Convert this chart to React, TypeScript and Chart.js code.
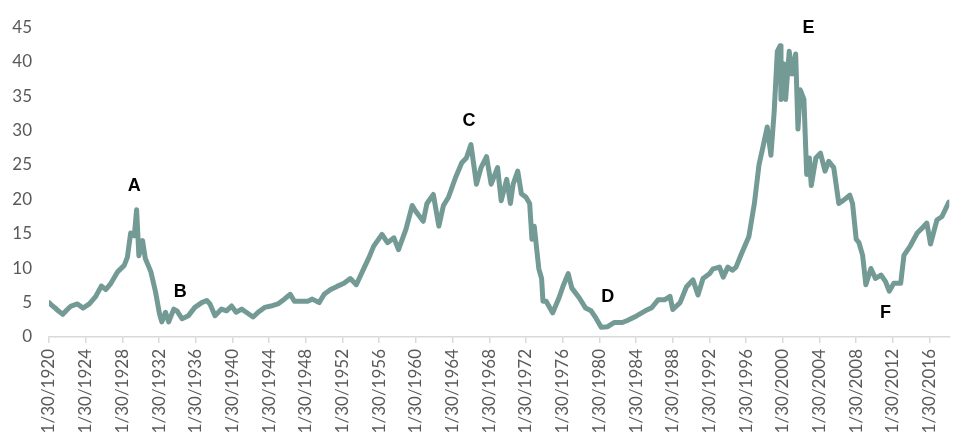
import { useEffect, useRef } from "react";
import { Chart, registerables } from "chart.js";

Chart.register(...registerables);

// Year (fractional) of each reading
const years = [
  1920.0, 1920.3, 1920.6, 1921.0, 1921.5, 1922.0, 1922.4, 1923.1, 1923.7, 1924.4,
  1925.1, 1925.7, 1926.2, 1926.75, 1927.5, 1928.2, 1928.55, 1928.9, 1929.3, 1929.55,
  1929.8, 1930.2, 1930.5, 1931.1, 1931.6, 1932.05, 1932.3, 1932.7, 1933.05, 1933.6,
  1933.95, 1934.5, 1935.2, 1935.9, 1936.65, 1937.2, 1937.55, 1938.1, 1938.8, 1939.35,
  1939.9, 1940.4, 1941.0, 1941.5, 1942.25, 1942.8, 1943.5, 1944.2, 1944.95, 1945.65,
  1946.3, 1946.75, 1947.45, 1948.2, 1948.7, 1949.45, 1950.0, 1950.7, 1951.4, 1952.15,
  1952.85, 1953.5, 1954.3, 1954.9, 1955.4, 1956.3, 1956.9, 1957.6, 1958.1, 1958.9,
  1959.6, 1959.9, 1960.8, 1961.2, 1961.9, 1962.5, 1963.0, 1963.55, 1964.3, 1965.0,
  1965.5, 1966.0, 1966.6, 1967.1, 1967.7, 1968.2, 1968.9, 1969.3, 1969.9, 1970.3,
  1970.6, 1971.1, 1971.5, 1972.0, 1972.4, 1972.65, 1972.9, 1973.4, 1973.7, 1973.85,
  1974.2, 1974.9, 1975.6, 1976.1, 1976.6, 1977.0, 1977.8, 1978.5, 1979.1, 1979.6,
  1980.2, 1980.9, 1981.6, 1982.5, 1983.05, 1984.1, 1985.0, 1985.7, 1986.4, 1987.1,
  1987.7, 1988.0, 1988.8, 1989.5, 1990.2, 1990.75, 1991.3, 1992.0, 1992.4, 1993.1,
  1993.5, 1994.0, 1994.5, 1994.9, 1995.4, 1996.3, 1996.9, 1997.4, 1997.8, 1998.3,
  1998.7, 1999.05, 1999.4, 1999.7, 1999.8, 2000.1, 2000.3, 2000.7, 2001.0, 2001.4,
  2001.65, 2001.9, 2002.3, 2002.6, 2002.9, 2003.1, 2003.6, 2004.1, 2004.6, 2005.0,
  2005.55, 2006.1, 2006.6, 2007.3, 2007.6, 2008.0, 2008.3, 2008.7, 2009.05, 2009.6,
  2010.1, 2010.7, 2011.2, 2011.6, 2012.1, 2012.85, 2013.2, 2013.9, 2014.65, 2015.2,
  2015.7, 2016.1, 2016.8, 2017.35, 2018.1,
];

// Ratio values
const values = [
  5.0, 4.6, 4.3, 3.8, 3.3, 4.0, 4.5, 4.8, 4.2, 4.8,
  5.9, 7.4, 6.9, 7.8, 9.5, 10.4, 11.6, 15.1, 14.7, 18.5,
  11.8, 14.0, 11.4, 9.5, 6.65, 3.35, 2.2, 3.6, 2.2, 4.05,
  3.8, 2.65, 3.1, 4.3, 5.0, 5.3, 4.8, 3.1, 4.05, 3.8,
  4.5, 3.6, 4.05, 3.6, 2.9, 3.6, 4.3, 4.5, 4.8, 5.5,
  6.2, 5.2, 5.2, 5.2, 5.5, 5.0, 6.2, 6.9, 7.35, 7.8,
  8.5, 7.6, 9.9, 11.6, 13.2, 14.9, 13.7, 14.4, 12.7, 15.6,
  19.1, 18.4, 16.8, 19.4, 20.7, 16.1, 19.1, 20.3, 23.1, 25.3,
  26.0, 27.95, 22.2, 24.6, 26.2, 22.2, 24.6, 19.8, 22.9, 19.4,
  22.2, 24.1, 20.8, 20.3, 19.4, 14.2, 16.1, 9.9, 8.5, 5.2,
  5.2, 3.5, 5.7, 7.6, 9.2, 7.1, 5.7, 4.2, 3.8, 2.8,
  1.4, 1.5, 2.1, 2.1, 2.4, 3.1, 3.8, 4.25, 5.4, 5.4,
  5.9, 4.0, 5.0, 7.3, 8.3, 6.1, 8.5, 9.2, 9.9, 10.15,
  8.7, 10.15, 9.7, 10.15, 11.8, 14.6, 19.4, 25.0, 27.4, 30.5,
  26.4, 32.6, 41.5, 42.3, 34.5, 39.7, 34.5, 41.5, 38.2, 41.1,
  30.2, 35.9, 34.5, 23.6, 26.0, 22.0, 26.0, 26.7, 24.1, 25.5,
  24.6, 19.4, 19.85, 20.6, 19.4, 14.2, 13.7, 11.85, 7.6, 9.95,
  8.5, 9.0, 8.05, 6.65, 7.8, 7.8, 11.85, 13.25, 15.1, 15.85,
  16.55, 13.5, 17.0, 17.5, 19.6,
];

// Annotation letters and where they sit (in data units)
const noteLabels = ["A", "B", "C", "D", "E", "F"];
const noteYears = [1929.3, 1934.3, 1965.8, 1980.9, 2002.8, 2011.2];
const noteValues = [21.9, 6.6, 31.3, 5.85, 44.9, 3.45];

const tickPrefix = "1/30/";

const notesPlugin = {
  id: "notes",
  afterDatasetsDraw(chart: any) {
    const { ctx, scales } = chart;
    ctx.save();
    ctx.font = "bold 18px 'Liberation Sans'";
    ctx.fillStyle = "#000000";
    ctx.textAlign = "center";
    ctx.textBaseline = "middle";
    noteLabels.forEach((t, i) => {
      ctx.fillText(
        t,
        scales.x.getPixelForValue(noteYears[i]),
        scales.y.getPixelForValue(noteValues[i])
      );
    });
    ctx.restore();
  },
};

export default function App() {
  const ref = useRef<HTMLCanvasElement>(null);
  useEffect(() => {
    document.body.style.margin = "0";
    const chart = new Chart(ref.current!, {
      type: "line",
      data: {
        datasets: [
          {
            data: years.map((x, i) => ({ x, y: values[i] })),
            borderColor: "#739a95",
            borderWidth: 5,
            pointRadius: 0,
            tension: 0,
            borderJoinStyle: "round",
            borderCapStyle: "round",
          },
        ],
      },
      options: {
        animation: false,
        responsive: false,
        layout: { padding: { top: 19, right: 0, bottom: 0, left: 0 } },
        plugins: { legend: { display: false }, tooltip: { enabled: false } },
        scales: {
          x: {
            type: "linear",
            min: 1920,
            max: 2018.15,
            afterFit: (s: any) => {
              s.height = 96;
            },
            ticks: {
              stepSize: 4,
              includeBounds: false,
              autoSkip: false,
              maxRotation: 90,
              minRotation: 90,
              padding: 6,
              color: "#595959",
              font: { family: "Lato", size: 17 },
              callback: (v: any) => tickPrefix + v,
            },
            grid: {
              drawOnChartArea: false,
              drawTicks: true,
              tickLength: 6,
              color: "#d9d9d9",
              lineWidth: 1.5,
            },
            border: { display: true, color: "#d9d9d9", width: 1.5 },
          },
          y: {
            min: 0,
            max: 45,
            afterFit: (s: any) => {
              s.width = 49;
            },
            ticks: {
              stepSize: 5,
              padding: 17,
              color: "#595959",
              font: { family: "Lato", size: 17 },
            },
            grid: { display: false, drawTicks: false },
            border: { display: false },
          },
        },
      },
      plugins: [notesPlugin],
    } as any);
    return () => chart.destroy();
  }, []);
  return (
    <div style={{ width: 956, height: 433 }}>
      <canvas ref={ref} width={956} height={433} />
    </div>
  );
}
